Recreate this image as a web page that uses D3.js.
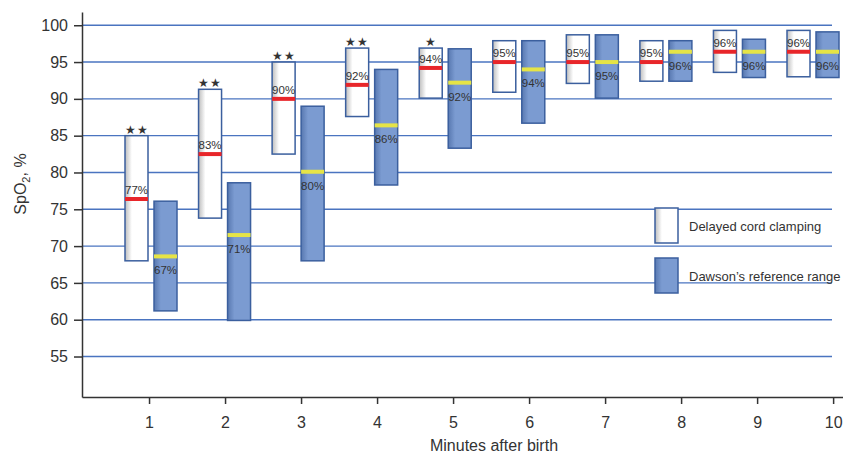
<!DOCTYPE html>
<html>
<head>
<meta charset="utf-8">
<script src="https://cdn.jsdelivr.net/npm/d3@7"></script>
<style>
  body { margin: 0; background: #fff; }
  svg { display: block; font-family: "Liberation Sans", Arial, sans-serif; }
  .tick text { font-size: 16px; fill: #333; }
  .boxLabel { font-size: 11.5px; fill: #333; text-anchor: middle; }
  .legendText { font-size: 13px; fill: #333; }
</style>
</head>
<body>
<div id="chart"></div>
<script>

// minutes after birth
var minutes = [1, 2, 3, 4, 5, 6, 7, 8, 9, 10];

// delayed cord clamping (white boxes)
var dccLow = [68.0, 73.8, 82.5, 87.6, 90.1, 90.9, 92.1, 92.4, 93.6, 93.0];
var dccHigh = [85.0, 91.3, 95.0, 96.9, 96.9, 97.9, 98.7, 97.9, 99.3, 99.3];
var dccMedian = [76.4, 82.5, 90.0, 91.9, 94.2, 95.0, 95.0, 95.0, 96.4, 96.4];
var dccLabel = [77, 83, 90, 92, 94, 95, 95, 95, 96, 96];
var stars = ["**", "**", "**", "**", "*", "", "", "", "", ""];

// Dawson's reference range (blue boxes)
var dawsonLow = [61.2, 59.9, 68.0, 78.3, 83.3, 86.7, 90.1, 92.4, 92.9, 92.9];
var dawsonHigh = [76.1, 78.6, 89.0, 94.0, 96.8, 97.9, 98.7, 97.9, 98.1, 99.1];
var dawsonMedian = [68.6, 71.5, 80.1, 86.4, 92.2, 94.0, 95.0, 96.4, 96.4, 96.4];
var dawsonLabel = [67, 71, 80, 86, 92, 94, 95, 96, 96, 96];

// axis ticks
var yTicks = [55, 60, 65, 70, 75, 80, 85, 90, 95, 100];
var xTicks = [1, 2, 3, 4, 5, 6, 7, 8, 9, 10];

var width = 843;
var height = 457;
var boxW = 23;

var gridColor = "#4a74c0";
var boxStroke = "#3b5f9e";

var svg = d3
  .select("#chart")
  .append("svg")
  .attr("width", width)
  .attr("height", height);

// gradients for the shaded boxes
var defs = svg.append("defs");
var gWhite = defs.append("linearGradient").attr("id", "gWhite");
gWhite.append("stop").attr("offset", "0%").attr("stop-color", "#bdbdbd");
gWhite.append("stop").attr("offset", "30%").attr("stop-color", "#fff");
gWhite.append("stop").attr("offset", "100%").attr("stop-color", "#fff");
var gBlue = defs.append("linearGradient").attr("id", "gBlue");
gBlue.append("stop").attr("offset", "0%").attr("stop-color", "#5878b0");
gBlue.append("stop").attr("offset", "30%").attr("stop-color", "#7b9bd1");
gBlue.append("stop").attr("offset", "100%").attr("stop-color", "#7b9bd1");

// scales
var xScale = d3.scaleLinear().domain([0.118, 10.13]).range([82, 843]);
var boxScale = d3.scaleLinear().domain([1, 10]).range([151, 813]);
var yScale = d3.scaleLinear().domain([49.5, 101.8]).range([397, 12]);

// grid lines
svg
  .append("g")
  .selectAll("line")
  .data(yTicks)
  .enter()
  .append("line")
  .attr("x1", 82)
  .attr("x2", 832)
  .attr("y1", function(d) { return yScale(d); })
  .attr("y2", function(d) { return yScale(d); })
  .attr("stroke", gridColor)
  .attr("stroke-width", 1.4);

// axes
var yAxis = d3.axisLeft(yScale).tickValues(yTicks).tickSize(8).tickSizeOuter(0).tickPadding(6);
var xAxis = d3.axisBottom(xScale).tickValues(xTicks).tickSize(7).tickSizeOuter(0).tickPadding(13);

svg.append("g")
  .attr("class", "yAxis")
  .attr("transform", "translate(82,0)")
  .call(yAxis);
svg.append("g")
  .attr("class", "xAxis")
  .attr("transform", "translate(0,397)")
  .call(xAxis);

svg.selectAll(".domain, .tick line").attr("stroke", "#333").attr("stroke-width", 1.5);

// axis titles
svg.append("text")
  .attr("x", 494)
  .attr("y", 451)
  .attr("text-anchor", "middle")
  .attr("font-size", 16)
  .attr("fill", "#333")
  .text("Minutes after birth");

var yTitle = svg.append("text")
  .attr("transform", "translate(26,184)rotate(-90)")
  .attr("text-anchor", "middle")
  .attr("font-size", 16)
  .attr("fill", "#333");
yTitle.append("tspan").text("SpO");
yTitle.append("tspan").attr("font-size", 11).attr("dy", 4).text("2");
yTitle.append("tspan").attr("dy", -4).text(", %");

// one group per minute
var groups = svg
  .selectAll(".minute")
  .data(minutes)
  .enter()
  .append("g")
  .attr("class", "minute");

// white boxes
groups.append("rect")
  .attr("x", function(d) { return boxScale(d) - 3 - boxW; })
  .attr("y", function(d, i) { return yScale(dccHigh[i]); })
  .attr("width", boxW)
  .attr("height", function(d, i) { return yScale(dccLow[i]) - yScale(dccHigh[i]); })
  .attr("fill", "url(#gWhite)")
  .attr("stroke", boxStroke)
  .attr("stroke-width", 1.5);

groups.append("line")
  .attr("x1", function(d) { return boxScale(d) - 3 - boxW; })
  .attr("x2", function(d) { return boxScale(d) - 3; })
  .attr("y1", function(d, i) { return yScale(dccMedian[i]); })
  .attr("y2", function(d, i) { return yScale(dccMedian[i]); })
  .attr("stroke", "#e8262a")
  .attr("stroke-width", 4);

groups.append("text")
  .attr("class", "boxLabel")
  .attr("x", function(d) { return boxScale(d) - 3 - boxW / 2; })
  .attr("y", function(d, i) { return yScale(dccMedian[i]) - 5; })
  .text(function(d, i) { return dccLabel[i] + "%"; });

// significance stars
groups.append("text")
  .attr("class", "boxLabel")
  .attr("font-size", 8)
  .attr("letter-spacing", 1)
  .attr("fill", "#444")
  .attr("x", function(d) { return boxScale(d) - 3 - boxW / 2; })
  .attr("y", function(d, i) { return yScale(dccHigh[i]) - 2; })
  .text(function(d, i) { return stars[i].replace(/\*/g, "\u2605"); });

// blue boxes
groups.append("rect")
  .attr("x", function(d) { return boxScale(d) + 3; })
  .attr("y", function(d, i) { return yScale(dawsonHigh[i]); })
  .attr("width", boxW)
  .attr("height", function(d, i) { return yScale(dawsonLow[i]) - yScale(dawsonHigh[i]); })
  .attr("fill", "url(#gBlue)")
  .attr("stroke", boxStroke)
  .attr("stroke-width", 1.5);

groups.append("line")
  .attr("x1", function(d) { return boxScale(d) + 3; })
  .attr("x2", function(d) { return boxScale(d) + 3 + boxW; })
  .attr("y1", function(d, i) { return yScale(dawsonMedian[i]); })
  .attr("y2", function(d, i) { return yScale(dawsonMedian[i]); })
  .attr("stroke", "#e6e446")
  .attr("stroke-width", 4);

groups.append("text")
  .attr("class", "boxLabel")
  .attr("x", function(d) { return boxScale(d) + 3 + boxW / 2; })
  .attr("y", function(d, i) { return yScale(dawsonMedian[i]) + 18; })
  .text(function(d, i) { return dawsonLabel[i] + "%"; });

// legend
var legend = svg.append("g").attr("transform", "translate(655,208)");
legend.append("rect")
  .attr("width", boxW).attr("height", 35)
  .attr("fill", "url(#gWhite)").attr("stroke", boxStroke).attr("stroke-width", 1.5);
legend.append("text")
  .attr("class", "legendText").attr("x", 34).attr("y", 23)
  .text("Delayed cord clamping");
legend.append("rect")
  .attr("y", 50).attr("width", boxW).attr("height", 35)
  .attr("fill", "url(#gBlue)").attr("stroke", boxStroke).attr("stroke-width", 1.5);
legend.append("text")
  .attr("class", "legendText").attr("x", 34).attr("y", 73)
  .text("Dawson\u2019s reference range");

</script>
</body>
</html>
